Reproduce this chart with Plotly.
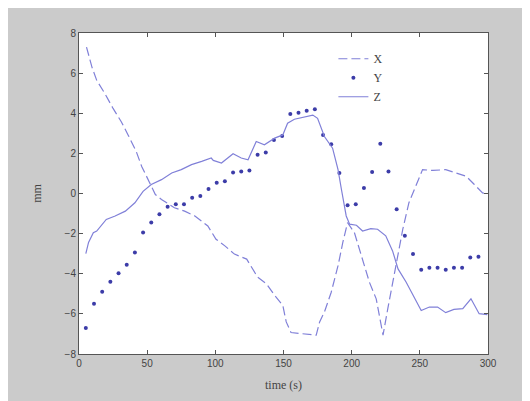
import plotly.graph_objects as go

# Series X (dashed line)
x_time = [5.5, 9.5, 13, 19, 25, 31, 36, 42, 46, 49.5, 53, 56, 60.5, 70, 77.5, 85, 94.5, 100.5, 107, 114,
          123, 127.5, 131, 137.5, 143.5, 149.5, 152, 155.5, 163, 170, 174, 176.5, 180, 185, 190, 193.5,
          197, 202, 208, 213, 218, 221.5, 223, 226.5, 230, 234, 237.5, 242, 246, 248.5, 252, 259.5,
          269, 276.5, 284, 290, 296, 299.5]
x_vals = [7.3, 6.3, 5.64, 4.98, 4.24, 3.58, 2.92, 2.09, 1.35, 0.86, 0.36, -0.05, -0.3, -0.71, -0.88, -1.12,
          -1.62, -2.28, -2.61, -3.02, -3.27, -3.76, -4.17, -4.5, -5.08, -5.58, -6.4, -6.93, -6.98, -7.06,
          -7.06, -6.4, -5.91, -4.92, -3.6, -2.44, -1.45, -1.95, -3.27, -4.42, -5.25, -6.4, -7.06, -5.74,
          -4.42, -3.1, -1.78, -0.46, 0.2, 0.69, 1.19, 1.15, 1.19, 1.02, 0.86, 0.45, 0.03, 0.0]

# Series Y (markers)
y_time = [5, 11, 17, 23, 29, 35, 41, 47, 53, 59, 65, 71, 77, 83, 89, 95, 101, 107, 113, 119, 125, 131,
          137, 143, 149, 155, 161, 167, 173, 179, 185, 191, 197, 203, 209, 215, 221, 227, 233, 239, 245,
          251, 257, 263, 269, 275, 281, 287, 293]
y_vals = [-6.7, -5.5, -4.9, -4.4, -3.97, -3.55, -2.94, -1.95, -1.45, -1.04, -0.66, -0.54, -0.54, -0.21,
          -0.13, 0.23, 0.53, 0.61, 1.05, 1.1, 1.15, 1.93, 2.04, 2.67, 2.87, 3.96, 4.02, 4.12, 4.2, 2.92,
          2.46, 1.02, -0.59, -0.54, 0.28, 1.07, 2.48, 1.1, -0.79, -2.11, -3.02, -3.8, -3.7, -3.7, -3.8,
          -3.7, -3.7, -3.19, -3.15]

# Series Z (solid line)
z_time = [5, 7, 10.5, 13, 20, 26.5, 34, 41, 47, 53, 60.5, 68, 75, 82.5, 90, 97, 98.5, 104.5, 113, 119,
          124, 130, 136, 143.5, 149.5, 153, 158, 165.5, 171.5, 175, 180, 186, 190, 192.5, 196, 198.5,
          203.5, 208, 214, 219, 225, 230, 234, 240, 245, 251, 257, 263, 269, 275, 281.5, 287.5, 293.5,
          299.5]
z_vals = [-3.0, -2.44, -1.95, -1.87, -1.29, -1.12, -0.88, -0.46, 0.11, 0.45, 0.69, 1.02, 1.19, 1.44, 1.6,
          1.77, 1.65, 1.52, 1.98, 1.77, 1.68, 2.59, 2.43, 2.76, 2.92, 3.5, 3.7, 3.8, 3.91, 3.75, 2.84,
          2.26, 1.19, 0.2, -1.12, -1.53, -1.58, -1.87, -1.75, -1.78, -2.11, -2.86, -3.76, -4.42, -5.08,
          -5.83, -5.66, -5.66, -5.94, -5.78, -5.74, -5.25, -5.99, -6.04]

x_ticks = [0, 50, 100, 150, 200, 250, 300]
y_ticks = [-8, -6, -4, -2, 0, 2, 4, 6, 8]

line_color = "#8080d8"
marker_color = "#3c3ca8"

fig = go.Figure()
fig.add_trace(go.Scatter(x=x_time, y=x_vals, name="X", mode="lines",
                         line=dict(color=line_color, width=1.2, dash="9px,4px")))
fig.add_trace(go.Scatter(x=y_time, y=y_vals, name="Y", mode="markers",
                         marker=dict(color=marker_color, size=4, symbol="circle")))
fig.add_trace(go.Scatter(x=z_time, y=z_vals, name="Z", mode="lines",
                         line=dict(color=line_color, width=1.2)))

axis_common = dict(showline=True, linecolor="#555555", linewidth=1, mirror="ticks",
                   ticks="inside", ticklen=4, tickcolor="#555555", showgrid=False, zeroline=False,
                   tickfont=dict(family="Liberation Sans", size=10, color="#444444"))

fig.update_layout(
    width=515, height=393,
    margin=dict(l=71, r=35, t=25, b=45),
    paper_bgcolor="#cbcbcb", plot_bgcolor="white",
    showlegend=True,
    legend=dict(x=0.622, y=0.965, xanchor="left", yanchor="top", bgcolor="rgba(0,0,0,0)",
                font=dict(family="Liberation Serif", size=12, color="#444444"),
                tracegroupgap=0, itemwidth=30),
    xaxis=dict(range=[0, 300], tickvals=x_ticks,
               title=dict(text="time (s)", standoff=12,
                          font=dict(family="Liberation Serif", size=12, color="#444444")),
               **axis_common),
    yaxis=dict(range=[-8, 8], tickvals=y_ticks,
               title=dict(text="mm", standoff=20,
                          font=dict(family="Liberation Serif", size=12, color="#444444")),
               **axis_common),
)

fig.write_html("out.html")
